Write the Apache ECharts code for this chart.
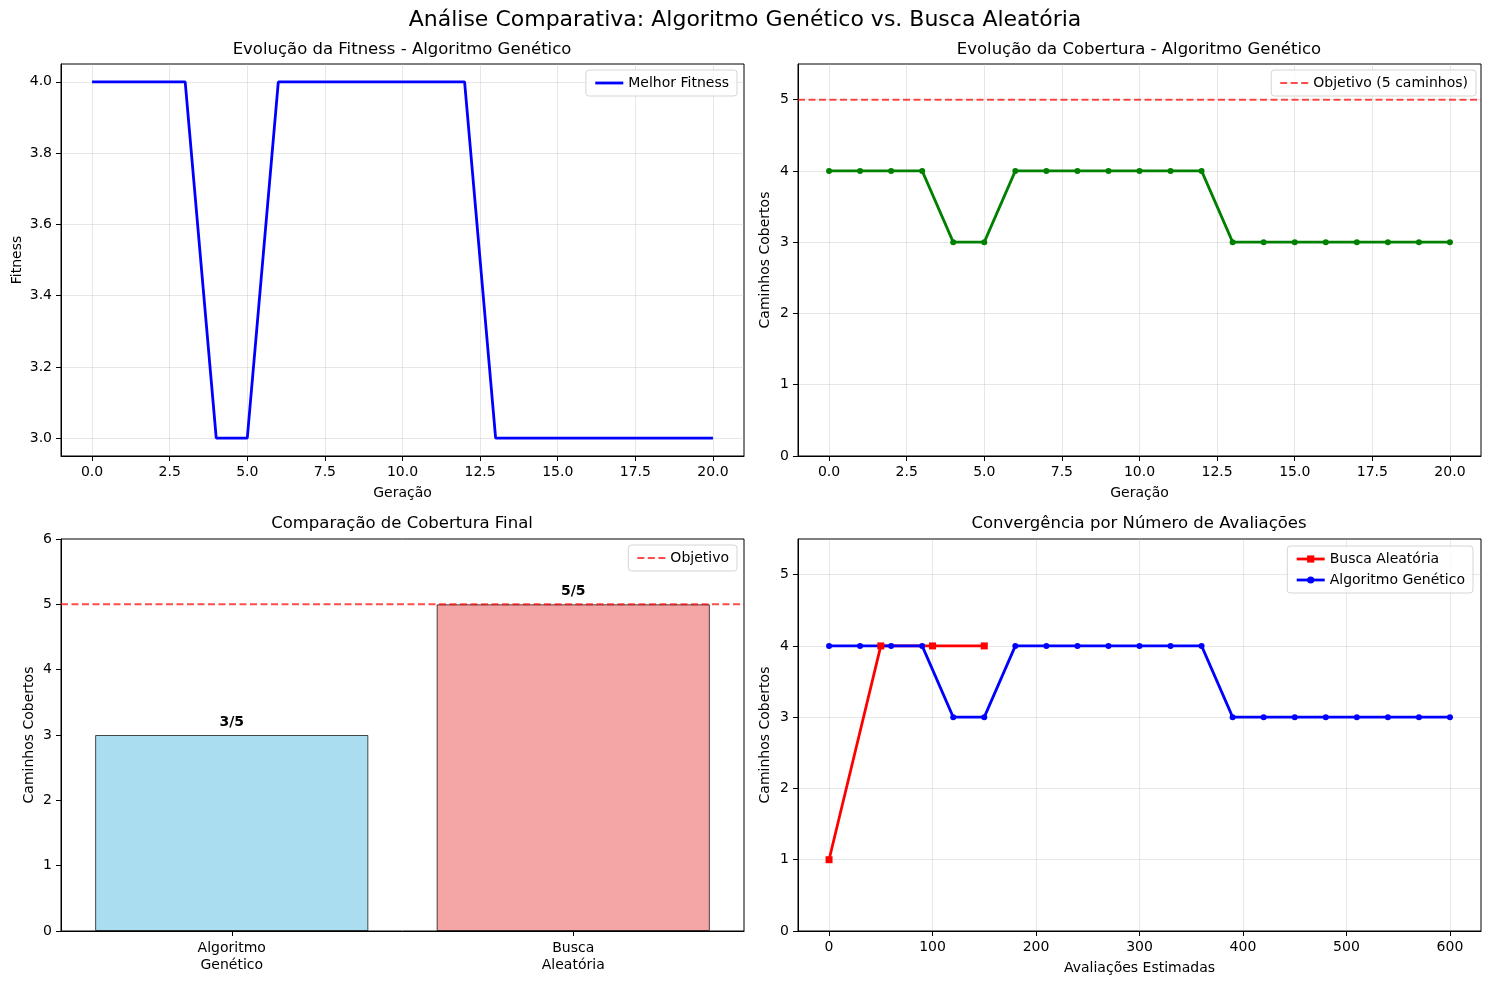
<!DOCTYPE html>
<html>
<head>
<meta charset="utf-8">
<title>Análise Comparativa</title>
<script src="https://cdn.jsdelivr.net/npm/echarts@6.0.0/dist/echarts.min.js"></script>
<style>
	html, body { margin: 0; padding: 0; background: #fff; }
	#chart { width: 1490px; height: 985px; }
</style>
</head>
<body>
<div id="chart"></div>
<script>
// dados
var generations = [0, 1, 2, 3, 4, 5, 6, 7, 8, 9, 10, 11, 12, 13, 14, 15, 16, 17, 18, 19, 20];
var bestFitness = [4, 4, 4, 4, 3, 3, 4, 4, 4, 4, 4, 4, 4, 3, 3, 3, 3, 3, 3, 3, 3];
var coveredPaths = [4, 4, 4, 4, 3, 3, 4, 4, 4, 4, 4, 4, 4, 3, 3, 3, 3, 3, 3, 3, 3];
var gaEvaluations = [0, 30, 60, 90, 120, 150, 180, 210, 240, 270, 300, 330, 360, 390, 420, 450, 480, 510, 540, 570, 600];
var randomEvaluations = [0, 50, 100, 150];
var randomCoverage = [1, 4, 4, 4];
var methods = ['Algoritmo\nGenético', 'Busca\nAleatória'];
var finalCoverage = [3, 5];
var totalPaths = 5;

// rótulos dos eixos
var generationTicks = [0, 2.5, 5, 7.5, 10, 12.5, 15, 17.5, 20];
var fitnessTicks = [3.0, 3.2, 3.4, 3.6, 3.8, 4.0];
var coverageTicks = [0, 1, 2, 3, 4, 5];
var barTicks = [0, 1, 2, 3, 4, 5, 6];
var evaluationTicks = [0, 100, 200, 300, 400, 500, 600];

var FONT = 'DejaVu Sans';

function pairs(xs, ys) {
	var out = [];
	for (var i = 0; i < xs.length; i++) {
		out.push([xs[i], ys[i]]);
	}
	return out;
}

function valueAxis(gridIndex, min, max, ticks, decimals, grid, name, nameGap) {
	return {
		type: 'value',
		gridIndex: gridIndex,
		min: min,
		max: max,
		name: name,
		nameLocation: 'middle',
		nameGap: nameGap,
		nameTextStyle: { fontFamily: FONT, fontSize: 14, color: '#000' },
		axisLine: { show: true, onZero: false, lineStyle: { color: '#000', width: 1 } },
		axisTick: { show: true, length: 5, customValues: ticks, lineStyle: { color: '#000' } },
		axisLabel: {
			customValues: ticks,
			margin: 9,
			fontFamily: FONT,
			fontSize: 14,
			color: '#000',
			formatter: function (v) { return v.toFixed(decimals); }
		},
		splitLine: { show: grid, lineStyle: { color: 'rgba(176,176,176,0.3)', width: 1 } }
	};
}

// item de legenda só com a linha (sem marcador)
function lineOnly(name) {
	return { name: name, itemStyle: { opacity: 0 } };
}

function legendBox(items, right, top, vertical, lineWidth) {
	return {
		data: items,
		orient: vertical ? 'vertical' : 'horizontal',
		right: right,
		top: top,
		align: 'left',
		padding: [6, 8, 6, 8],
		itemGap: 7,
		itemWidth: 28,
		itemHeight: 9,
		backgroundColor: 'rgba(255,255,255,0.8)',
		borderColor: '#d5d5d5',
		borderWidth: 1,
		borderRadius: 3,
		selectedMode: false,
		lineStyle: { width: lineWidth },
		textStyle: { fontFamily: FONT, fontSize: 14, color: '#000' }
	};
}

function titleText(text, x, y, size) {
	return {
		type: 'text',
		x: x,
		y: y,
		style: {
			text: text,
			fill: '#000',
			font: size + 'px "' + FONT + '"',
			textAlign: 'center',
			textVerticalAlign: 'middle'
		}
	};
}

var chart = echarts.init(document.getElementById('chart'));

var dashed = { color: 'rgba(255,0,0,0.7)', width: 2, type: [7, 3.5] };

var option = {
	animation: false,
	textStyle: { fontFamily: FONT },
	graphic: [
		titleText('Análise Comparativa: Algoritmo Genético vs. Busca Aleatória', 745, 20, 22),
		titleText('Evolução da Fitness - Algoritmo Genético', 402, 50, 16.5),
		titleText('Evolução da Cobertura - Algoritmo Genético', 1139, 50, 16.5),
		titleText('Comparação de Cobertura Final', 402, 524, 16.5),
		titleText('Convergência por Número de Avaliações', 1139, 524, 16.5)
	],
	grid: [
		{ left: 61, top: 64, width: 683, height: 392, show: true, borderColor: '#000', borderWidth: 1 },
		{ left: 798, top: 64, width: 683, height: 392, show: true, borderColor: '#000', borderWidth: 1 },
		{ left: 61, top: 539, width: 683, height: 392, show: true, borderColor: '#000', borderWidth: 1 },
		{ left: 798, top: 539, width: 683, height: 392, show: true, borderColor: '#000', borderWidth: 1 }
	],
	legend: [
		legendBox([lineOnly('Melhor Fitness')], 753, 70, false, 2.8),
		legendBox([lineOnly('Objetivo (5 caminhos)')], 14, 70, false, 2),
		legendBox([lineOnly('Objetivo')], 753, 545, false, 2),
		legendBox(['Busca Aleatória', 'Algoritmo Genético'], 17, 546, true, 2.8)
	],
	xAxis: [
		valueAxis(0, -1, 21, generationTicks, 1, true, 'Geração', 30),
		valueAxis(1, -1, 21, generationTicks, 1, true, 'Geração', 30),
		{
			type: 'category',
			gridIndex: 2,
			data: methods,
			axisLine: { show: true, lineStyle: { color: '#000', width: 1 } },
			axisTick: { show: true, alignWithLabel: true, length: 5, lineStyle: { color: '#000' } },
			axisLabel: { margin: 9, fontFamily: FONT, fontSize: 14, color: '#000', lineHeight: 17 },
			splitLine: { show: false }
		},
		{ type: 'value', gridIndex: 2, min: 0, max: 1, show: false },
		valueAxis(3, -30, 630, evaluationTicks, 0, true, 'Avaliações Estimadas', 30)
	],
	yAxis: [
		valueAxis(0, 2.95, 4.05, fitnessTicks, 1, true, 'Fitness', 37),
		valueAxis(1, 0, 5.5, coverageTicks, 0, true, 'Caminhos Cobertos', 26),
		valueAxis(2, 0, 6, barTicks, 0, false, 'Caminhos Cobertos', 25),
		valueAxis(3, 0, 5.5, coverageTicks, 0, true, 'Caminhos Cobertos', 26)
	],
	series: [
		{
			name: 'Melhor Fitness',
			type: 'line',
			xAxisIndex: 0,
			yAxisIndex: 0,
			data: pairs(generations, bestFitness),
			symbol: 'none',
			color: '#0000ff',
			lineStyle: { color: '#0000ff', width: 2.8 }
		},
		{
			name: 'Cobertura',
			type: 'line',
			xAxisIndex: 1,
			yAxisIndex: 1,
			data: pairs(generations, coveredPaths),
			symbol: 'circle',
			symbolSize: 6,
			color: '#008000',
			itemStyle: { color: '#008000' },
			lineStyle: { color: '#008000', width: 2.8 }
		},
		{
			name: 'Objetivo (5 caminhos)',
			type: 'line',
			xAxisIndex: 1,
			yAxisIndex: 1,
			data: [[-1, totalPaths], [21, totalPaths]],
			symbol: 'none',
			color: 'rgba(255,0,0,0.7)',
			lineStyle: dashed
		},
		{
			name: 'Cobertura Final',
			type: 'bar',
			xAxisIndex: 2,
			yAxisIndex: 2,
			barWidth: '80%',
			data: [
				{ value: finalCoverage[0], itemStyle: { color: 'rgba(135,206,235,0.7)' } },
				{ value: finalCoverage[1], itemStyle: { color: 'rgba(240,128,128,0.7)' } }
			],
			itemStyle: { borderColor: 'rgba(0,0,0,0.7)', borderWidth: 1 },
			label: {
				show: true,
				position: 'top',
				distance: 6,
				fontFamily: FONT,
				fontSize: 14,
				fontWeight: 'bold',
				color: '#000',
				formatter: function (p) { return p.value + '/' + totalPaths; }
			}
		},
		{
			name: 'Objetivo',
			type: 'line',
			xAxisIndex: 3,
			yAxisIndex: 2,
			data: [[0, totalPaths], [1, totalPaths]],
			symbol: 'none',
			color: 'rgba(255,0,0,0.7)',
			lineStyle: dashed,
			z: 5
		},
		{
			name: 'Busca Aleatória',
			type: 'line',
			xAxisIndex: 4,
			yAxisIndex: 3,
			data: pairs(randomEvaluations, randomCoverage),
			symbol: 'rect',
			symbolSize: 7,
			color: '#ff0000',
			itemStyle: { color: '#ff0000' },
			lineStyle: { color: '#ff0000', width: 2.8 }
		},
		{
			name: 'Algoritmo Genético',
			type: 'line',
			xAxisIndex: 4,
			yAxisIndex: 3,
			data: pairs(gaEvaluations, coveredPaths),
			symbol: 'circle',
			symbolSize: 6,
			color: '#0000ff',
			itemStyle: { color: '#0000ff' },
			lineStyle: { color: '#0000ff', width: 2.8 }
		}
	]
};

chart.setOption(option);
</script>
</body>
</html>
